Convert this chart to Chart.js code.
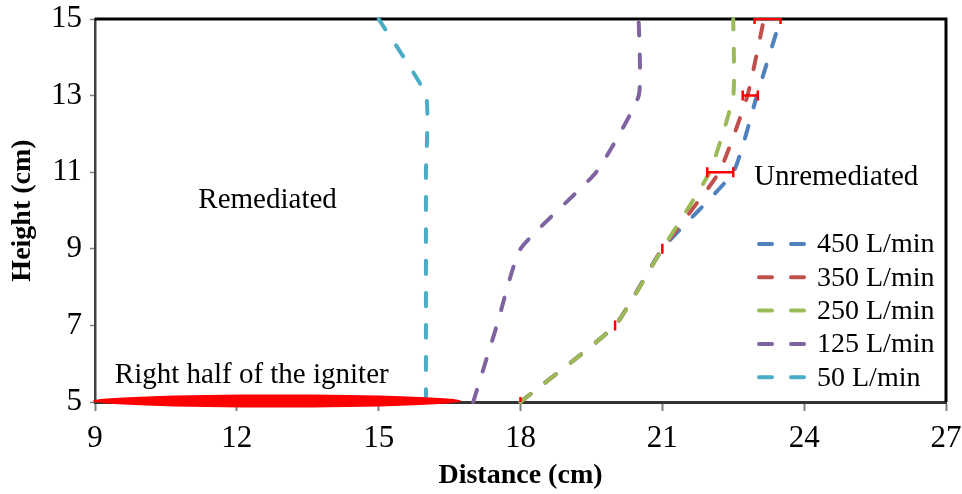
<!DOCTYPE html>
<html>
<head>
<meta charset="utf-8">
<script src="https://cdn.jsdelivr.net/npm/chart.js@4.4.1/dist/chart.umd.min.js"></script>
<style>
  body { margin: 0; background: #fff; }
  #wrap { width: 962px; height: 494px; }
</style>
</head>
<body>
<div id="wrap"><canvas id="myChart" width="962" height="494"></canvas></div>
<script>
let heights = [5, 7, 9, 11, 13, 15];
let dist450 = [18, 20, 21, 22.5, 23, 23.5];
let dist350 = [18, 20, 21, 22.2, 22.8, 23.15];
let dist250 = [18, 20, 21, 22, 22.5, 22.5];
let dist125 = [17, 17.5, 18, 19.6, 20.5, 20.5];
let dist50 = [16, 16, 16, 16, 16, 15];

let flowLabels = ['450 L/min', '350 L/min', '250 L/min', '125 L/min', '50 L/min'];
let flowColors = ['#4F81BD', '#C0504D', '#9BBB59', '#8064A2', '#4BACC6'];

// spread of the 350 L/min front at each height
let errLow = [18, 20, 21, 21.95, 22.7, 22.95];
let errHigh = [18, 20, 21, 22.5, 23.02, 23.5];

let xTicks = [9, 12, 15, 18, 21, 24, 27];
let yTicks = [5, 7, 9, 11, 13, 15];

// igniter along the bottom edge
let igniterX = [8.95, 16.75];

// text labels inside the plot {text, x, y, align}
let notes = [
    { text: 'Remediated', x: 12.65, y: 10.07, align: 'center' },
    { text: 'Unremediated', x: 22.94, y: 10.67, align: 'left' },
    { text: 'Right half of the igniter', x: 9.42, y: 5.5, align: 'left' }
];

let serif = "'Liberation Serif', 'Times New Roman', serif";
let ctx = document.getElementById('myChart');

function toPoints(xs) {
    return xs.map((v, i) => ({ x: v, y: heights[i] }));
}

let allDist = [dist450, dist350, dist250, dist125, dist50];
// green sits above red, red above blue
let drawOrder = [3, 2, 1, 0, 0];

let datasets = allDist.map((d, i) => ({
    label: flowLabels[i],
    data: toPoints(d),
    borderColor: flowColors[i],
    backgroundColor: flowColors[i],
    borderWidth: 4,
    borderDash: [13, 19],
    borderCapStyle: 'round',
    pointRadius: 0,
    tension: 0.15,
    order: drawOrder[i],
    clip: 4
}));

let extras = {
    id: 'extras',
    beforeDatasetsDraw(chart) {
        let { ctx, chartArea: a } = chart;
        ctx.save();
        ctx.strokeStyle = '#000';
        ctx.lineWidth = 3;
        ctx.beginPath();
        ctx.moveTo(a.left, a.top);
        ctx.lineTo(a.right, a.top);
        ctx.lineTo(a.right, a.bottom);
        ctx.stroke();
        ctx.restore();
    },
    afterDatasetsDraw(chart) {
        let { ctx, chartArea: a, scales: { x, y } } = chart;
        ctx.save();
        ctx.beginPath();
        ctx.rect(a.left, a.top - 1, a.right - a.left, a.bottom - a.top + 1);
        ctx.clip();
        ctx.strokeStyle = '#FF0000';
        ctx.lineWidth = 2.5;
        heights.forEach((h, i) => {
            let py = y.getPixelForValue(h);
            let x1 = x.getPixelForValue(errLow[i]);
            let x2 = x.getPixelForValue(errHigh[i]);
            ctx.beginPath();
            ctx.moveTo(x1, py);
            ctx.lineTo(x2, py);
            ctx.moveTo(x1, py - 5);
            ctx.lineTo(x1, py + 5);
            ctx.moveTo(x2, py - 5);
            ctx.lineTo(x2, py + 5);
            ctx.stroke();
        });
        ctx.restore();
    },
    afterDraw(chart) {
        let { ctx, chartArea: a, scales: { x, y } } = chart;
        ctx.save();

        // igniter
        let x1 = x.getPixelForValue(igniterX[0]);
        let x2 = x.getPixelForValue(igniterX[1]);
        let cy = y.getPixelForValue(heights[0]) - 1;
        ctx.fillStyle = '#FF0000';
        ctx.beginPath();
        ctx.ellipse((x1 + x2) / 2, cy, (x2 - x1) / 2, 6.5, 0, 0, Math.PI * 2);
        ctx.fill();

        ctx.fillStyle = '#000';
        ctx.font = '29px ' + serif;
        ctx.textBaseline = 'alphabetic';
        notes.forEach(n => {
            ctx.textAlign = n.align;
            ctx.fillText(n.text, x.getPixelForValue(n.x), y.getPixelForValue(n.y));
        });

        // legend
        let lx = a.right - 187;
        let ly = a.top + 225;
        ctx.font = '28px ' + serif;
        ctx.textAlign = 'left';
        ctx.textBaseline = 'middle';
        chart.data.datasets.forEach((ds, i) => {
            let ry = ly + i * 33.3;
            ctx.strokeStyle = ds.borderColor;
            ctx.lineWidth = 4;
            ctx.lineCap = 'round';
            ctx.setLineDash([13, 19]);
            ctx.beginPath();
            ctx.moveTo(lx, ry);
            ctx.lineTo(lx + 45, ry);
            ctx.stroke();
            ctx.setLineDash([]);
            ctx.fillText(ds.label, lx + 58, ry + 1);
        });
        ctx.restore();
    }
};

let c1 = new Chart(ctx, {
    type: 'line',
    data: { datasets: datasets },
    options: {
        responsive: false,
        devicePixelRatio: 1,
        animation: false,
        layout: { autoPadding: false, padding: { top: 19, right: 16, left: 0, bottom: 0 } },
        plugins: {
            legend: { display: false },
            tooltip: { enabled: false }
        },
        scales: {
            x: {
                type: 'linear',
                min: 9,
                max: 27,
                afterBuildTicks: s => { s.ticks = xTicks.map(v => ({ value: v })); },
                afterFit: s => {
                    s.height = 92;
                    s.paddingLeft = 0;
                    s.paddingRight = 0;
                },
                grid: { drawOnChartArea: false, tickLength: 9, tickColor: '#808080', tickWidth: 2 },
                border: { color: '#333', width: 3 },
                ticks: { color: '#000', padding: 9, font: { family: serif, size: 31 }, maxRotation: 0 },
                title: {
                    display: true,
                    text: 'Distance (cm)',
                    color: '#000',
                    font: { family: serif, size: 28, weight: 'bold' },
                    padding: { top: 0, bottom: 1 }
                }
            },
            y: {
                type: 'linear',
                min: 5,
                max: 15,
                afterBuildTicks: s => { s.ticks = yTicks.map(v => ({ value: v })); },
                afterFit: s => {
                    s.width = 95;
                    s.paddingTop = 0;
                    s.paddingBottom = 0;
                },
                grid: { drawOnChartArea: false, tickLength: 5, tickColor: '#808080', tickWidth: 1.5 },
                border: { color: '#404040', width: 2.5 },
                ticks: { color: '#000', padding: 8, font: { family: serif, size: 31 } },
                title: {
                    display: true,
                    text: 'Height (cm)',
                    color: '#000',
                    font: { family: serif, size: 28, weight: 'bold' },
                    padding: { top: 6, bottom: 0 }
                }
            }
        }
    },
    plugins: [extras]
});
</script>
</body>
</html>
